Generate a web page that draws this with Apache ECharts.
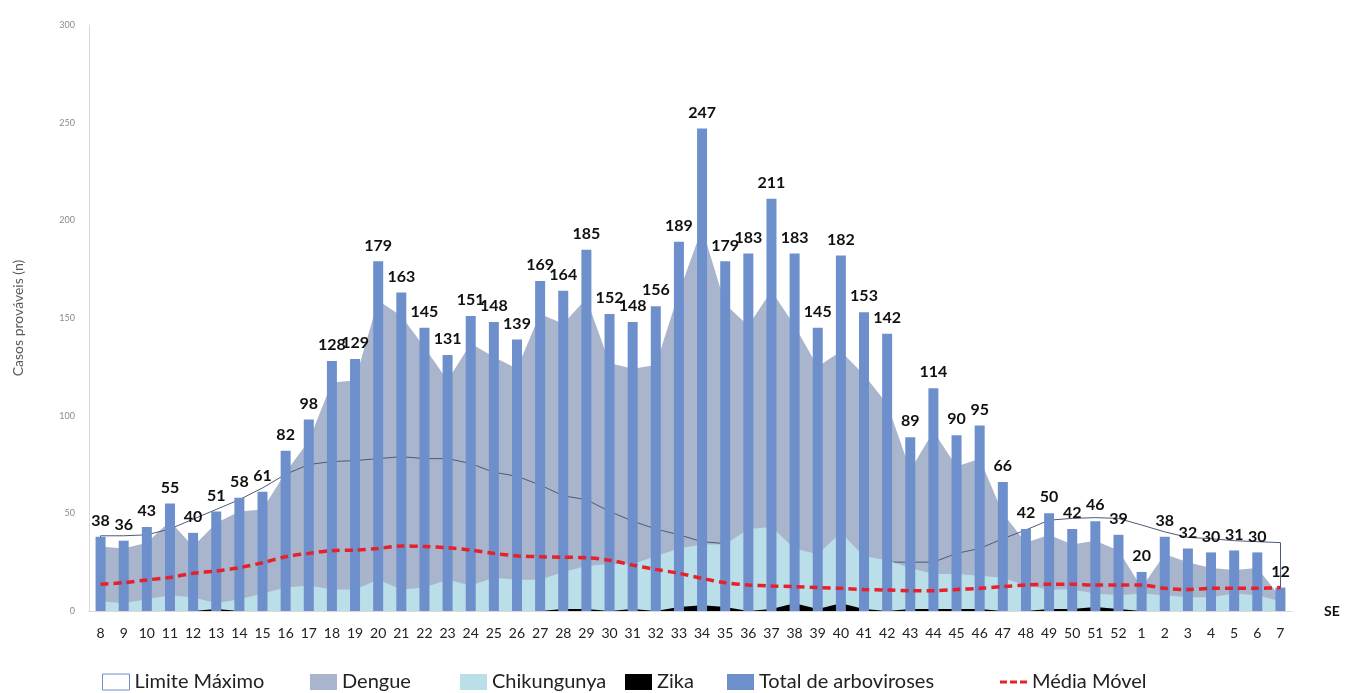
<!DOCTYPE html>
<html>
<head>
<meta charset="utf-8">
<script src="https://cdn.jsdelivr.net/npm/echarts@6/dist/echarts.min.js"></script>
<style>
html,body{margin:0;padding:0;background:#fff;}
#chart{width:1346px;height:693px;}
</style>
</head>
<body>
<div id="chart"></div>
<script>
const weeks = ['8','9','10','11','12','13','14','15','16','17','18','19','20','21','22','23','24','25','26','27','28','29','30','31','32','33','34','35','36','37','38','39','40','41','42','43','44','45','46','47','48','49','50','51','52','1','2','3','4','5','6','7'];
const total = [38,36,43,55,40,51,58,61,82,98,128,129,179,163,145,131,151,148,139,169,164,185,152,148,156,189,247,179,183,211,183,145,182,153,142,89,114,90,95,66,42,50,42,46,39,20,38,32,30,31,30,12];
const dengue = [33,32,35,46,33,45,51,52,71,87,117,118,159,151,135,118,137,130,124,152,147,160,127,124,126,163,196,157,146,164,146,125,133,121,106,72,92,74,78,50,35,39,34,36,31,12,29,25,22,21,22,7];
const chik = [5,4,6,8,7,4,6,9,12,13,11,11,16,11,12,16,13,17,16,16,20,23,24,24,28,32,34,34,42,43,32,29,40,28,26,22,19,19,18,17,13,11,11,9,8,9,8,7,7,9,8,5];
const zika = [0,0,0,0,0,1,0,0,0,0,0,0,0,0,0,0,0,0,0,0,1,1,0,1,0,2,3,2,0,1,4,1,4,1,0,1,1,1,1,0,0,1,1,2,1,0,0,0,0,0,0,0];
const limite = [38.5,38.5,39,42,47,52,57,63,70,75,76.5,77,78,79,78,78,75.5,71,69,64.5,59,57,51,46,42,39,35.5,34.5,32,30,29,28,27,26,25,25,25,29.5,32,37,41.5,46.5,47.4,47.8,47.4,44,40.5,37.7,37,36,35.5,35];
const media = [13.7,14.5,15.9,17.2,19.3,20.5,22.2,24.7,27.8,29.5,30.9,31.2,32,33.3,33,32.4,31.2,29.5,28.2,27.8,27.5,27.3,26,23.5,21.3,19.3,16.7,14.5,13.3,12.8,12.5,12,11.6,11,10.7,10.4,10.4,11,11.6,12.5,13.3,13.7,13.7,13.3,13.3,13.3,11.6,11,11.6,11.6,11.6,12];
const yMin = 0, yMax = 300, yStep = 50;

const FONT = 'Lato, "Open Sans", sans-serif';
const C = {
  dengue: '#a9b5cc',
  chik: '#badfe9',
  zika: '#000000',
  total: '#6d90cc',
  limite: '#4a5a78',
  media: '#e5222b'
};

const legendText = {fontFamily: FONT, fontSize: 20, color: '#222'};
function lg(left, item) {
  return {left: left, top: 667, itemWidth: 27, itemHeight: 16, itemGap: 6,
          textStyle: legendText, selectedMode: false, data: [item]};
}

const chart = echarts.init(document.getElementById('chart'));
const lastW = weeks[weeks.length - 1];
chart.setOption({
  animation: false,
  textStyle: {fontFamily: FONT},
  grid: {left: 89, right: 54, top: 25, bottom: 82, containLabel: false},
  legend: [
    lg(97, {name: 'Limite Máximo', icon: 'rect', itemStyle: {color: '#ffffff', borderColor: '#6d90cc', borderWidth: 1}}),
    lg(305, {name: 'Dengue', icon: 'rect', itemStyle: {color: C.dengue}}),
    lg(455, {name: 'Chikungunya', icon: 'rect', itemStyle: {color: C.chik}}),
    lg(620, {name: 'Zika', icon: 'rect', itemStyle: {color: C.zika}}),
    lg(722, {name: 'Total de arboviroses', icon: 'rect', itemStyle: {color: C.total}}),
    lg(995, {name: 'Média Móvel', icon: 'path://M0,0h7v3h-7z M10,0h7v3h-7z M20,0h7v3h-7z', itemStyle: {color: C.media}})
  ],
  xAxis: {
    type: 'category',
    data: weeks,
    boundaryGap: true,
    name: 'SE',
    nameLocation: 'end',
    nameGap: 32,
    nameTextStyle: {fontFamily: FONT, fontWeight: 'bold', fontSize: 14, color: '#111', padding: [44, 0, 0, 0]},
    axisLine: {show: true, lineStyle: {color: '#d9d9d9'}},
    axisTick: {show: false},
    axisLabel: {interval: 0, margin: 15, fontFamily: FONT, fontSize: 14, color: '#222'}
  },
  yAxis: {
    type: 'value',
    min: yMin, max: yMax, interval: yStep,
    name: 'Casos prováveis (n)',
    nameLocation: 'middle',
    nameGap: 64,
    nameTextStyle: {fontFamily: FONT, fontSize: 14, color: '#595959'},
    axisLine: {show: true, lineStyle: {color: '#d9d9d9'}},
    axisTick: {show: false},
    splitLine: {show: false},
    axisLabel: {margin: 14, fontFamily: FONT, fontSize: 9, color: '#8a8a8a'}
  },
  series: [
    {
      name: 'Dengue', type: 'line', data: dengue, color: C.dengue, z: 1,
      symbol: 'none', lineStyle: {width: 0}, areaStyle: {color: C.dengue, opacity: 1}
    },
    {
      name: 'Limite Máximo', type: 'line', data: limite, color: '#6d90cc', z: 2,
      symbol: 'none', lineStyle: {width: 1, color: C.limite},
      markLine: {
        silent: true, symbol: 'none', label: {show: false},
        lineStyle: {color: C.limite, width: 1, type: 'solid'},
        data: [
          [{coord: [weeks[0], 0]}, {coord: [weeks[0], limite[0]]}],
          [{coord: [lastW, 0]}, {coord: [lastW, limite[limite.length - 1]]}]
        ]
      }
    },
    {
      name: 'Chikungunya', type: 'line', data: chik, color: C.chik, z: 3,
      symbol: 'none', lineStyle: {width: 0}, areaStyle: {color: C.chik, opacity: 1}
    },
    {
      name: 'Zika', type: 'line', data: zika, color: C.zika, z: 4,
      symbol: 'none', lineStyle: {width: 0}, areaStyle: {color: C.zika, opacity: 1}
    },
    {
      name: 'Total de arboviroses', type: 'bar', data: total, color: C.total, z: 5,
      barWidth: 10,
      itemStyle: {color: C.total},
      label: {show: true, position: 'top', distance: 8, fontFamily: FONT, fontWeight: 'bold', fontSize: 16, color: '#111'}
    },
    {
      name: 'Média Móvel', type: 'line', data: media, color: C.media, z: 6,
      symbol: 'none', smooth: 0.3,
      lineStyle: {width: 3.5, color: C.media, type: [8, 5]}
    }
  ]
});
</script>
</body>
</html>
